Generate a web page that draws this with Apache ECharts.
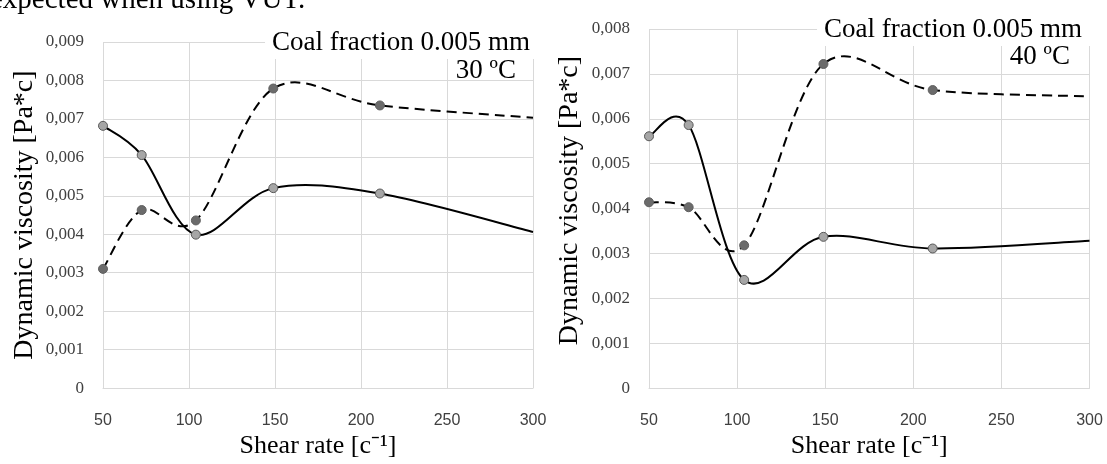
<!DOCTYPE html>
<html>
<head>
<meta charset="utf-8">
<script src="https://cdn.jsdelivr.net/npm/echarts@6/dist/echarts.min.js"></script>
<style>
html,body{margin:0;padding:0;background:#fff;}
#chart{width:1107px;height:464px;}
</style>
</head>
<body>
<div id="chart"></div>
<script>
// ---- data ----
const shearRate = [50, 72.5, 104, 149, 211, 300];
const visc30Solid  = [0.00682, 0.00606, 0.00399, 0.00520, 0.00506, 0.00406];
const visc30Dashed = [0.00310, 0.00463, 0.00436, 0.00779, 0.00735, 0.00703];
const visc40Solid  = [0.00561, 0.00586, 0.00241, 0.00337, 0.00311, 0.00328];
const visc40Dashed = [0.00414, 0.00403, 0.00318, 0.00722, 0.00664, 0.00650];
const markerCount = 5; // last point (axis end) carries no marker
const xTicks = [50, 100, 150, 200, 250, 300];
const yMax30 = 0.009, yMax40 = 0.008;
const titleText = 'Coal fraction 0.005 mm';
const temp30 = '30 ºC', temp40 = '40 ºC';
const yName = 'Dynamic viscosity [Pa*c]';
const xName = 'Shear rate [c⁻¹]';
const topText = 'expected when using VUT.';

const SERIF = '"Liberation Serif","Times New Roman",serif';
const SANS = '"Liberation Sans",Arial,sans-serif';
const GRID = '#d9d9d9';

function pairs(ys) { return shearRate.map((x, i) => [x, ys[i]]); }

// smooth spline (Catmull-Rom style, like spreadsheet smoothed lines) drawn in pixel space
function splinePath(P, t) {
  let d = 'M' + P[0][0] + ',' + P[0][1];
  for (let i = 0; i < P.length - 1; i++) {
    const p0 = P[i - 1] || P[i], p1 = P[i], p2 = P[i + 1], p3 = P[i + 2] || P[i + 1];
    const c1x = p1[0] + (p2[0] - p0[0]) * t, c1y = p1[1] + (p2[1] - p0[1]) * t;
    const c2x = p2[0] - (p3[0] - p1[0]) * t, c2y = p2[1] - (p3[1] - p1[1]) * t;
    d += ' C' + c1x + ',' + c1y + ' ' + c2x + ',' + c2y + ' ' + p2[0] + ',' + p2[1];
  }
  return d;
}

function xAxisCfg(idx) {
  return {
    type: 'value', gridIndex: idx, min: xTicks[0], max: xTicks[xTicks.length - 1], interval: 50,
    axisLine: { show: true, lineStyle: { color: GRID, width: 1 } },
    axisTick: { show: false },
    splitLine: { show: true, lineStyle: { color: GRID, width: 1 } },
    axisLabel: { color: '#404040', fontFamily: SANS, fontSize: 16, margin: 24 },
    name: xName, nameLocation: 'middle', nameGap: 39,
    nameTextStyle: { color: '#000', fontFamily: SERIF, fontSize: 26 }
  };
}
function yAxisCfg(idx, max, gap, shift) {
  return {
    type: 'value', gridIndex: idx, min: 0, max: max, interval: 0.001,
    axisLine: { show: false }, axisTick: { show: false },
    splitLine: { show: true, lineStyle: { color: GRID, width: 1 } },
    axisLabel: {
      color: '#404040', fontFamily: SERIF, fontSize: 17, margin: 19,
      formatter: v => (Math.abs(v) < 1e-9 ? '0' : v.toFixed(3).replace('.', ','))
    },
    name: yName, nameLocation: 'middle', nameGap: gap,
    nameTextStyle: { color: '#000', fontFamily: SERIF, fontSize: 28, padding: [0, 0, 0, shift] }
  };
}
function curve(idx, ys, dash) {
  const data = pairs(ys);
  return {
    type: 'custom', xAxisIndex: idx, yAxisIndex: idx, data: data, z: 2, silent: true,
    encode: { x: 0, y: 1 },
    renderItem: function (params, api) {
      if (params.dataIndex !== 0) return null;
      const P = data.map(p => api.coord(p));
      return {
        type: 'path',
        shape: { pathData: splinePath(P, 1 / 6) },
        style: { fill: 'none', stroke: '#000', lineWidth: 2, lineDash: dash ? [10, 6] : null }
      };
    }
  };
}
function markers(idx, ys, dashed) {
  return {
    type: 'scatter', xAxisIndex: idx, yAxisIndex: idx, z: 4,
    data: pairs(ys).slice(0, markerCount),
    symbol: 'circle', symbolSize: 9,
    itemStyle: dashed
      ? { color: '#6b6b6b', borderColor: '#5f5f5f', borderWidth: 1, opacity: 1 }
      : { color: '#a6a6a6', borderColor: '#595959', borderWidth: 1, opacity: 1 }
  };
}

const titleStyle = { fontFamily: SERIF, fontSize: 27, fontWeight: 'normal', color: '#000', lineHeight: 30 };
const chart = echarts.init(document.getElementById('chart'), null, { renderer: 'canvas' });
chart.setOption({
  animation: false,
  backgroundColor: '#fff',
  grid: [
    { left: 103, right: 574, top: 42, bottom: 64 },
    { left: 649, right: 17.5, top: 29, bottom: 63 }
  ],
  xAxis: [xAxisCfg(0), xAxisCfg(1)],
  yAxis: [yAxisCfg(0, yMax30, 64, 0), yAxisCfg(1, yMax40, 65, 16)],
  title: [
    { text: titleText, right: 571, top: 27, padding: [1, 6, 1, 7], backgroundColor: '#fff', textStyle: titleStyle },
    { text: temp30, right: 591, top: 56, padding: 0, textStyle: titleStyle },
    { text: titleText, right: 17, top: 14, padding: [1, 8, 1, 7], backgroundColor: '#fff', textStyle: titleStyle },
    { text: temp40, right: 37, top: 42, padding: 0, textStyle: titleStyle }
  ],
  graphic: [
    { type: 'text', left: -10, top: -14, z: 10,
      style: { text: topText, fontFamily: SERIF, fontSize: 29, fill: '#000' } }
  ],
  series: [
    curve(0, visc30Solid, false), curve(0, visc30Dashed, true),
    markers(0, visc30Solid, false), markers(0, visc30Dashed, true),
    curve(1, visc40Solid, false), curve(1, visc40Dashed, true),
    markers(1, visc40Solid, false), markers(1, visc40Dashed, true)
  ]
});
</script>
</body>
</html>
